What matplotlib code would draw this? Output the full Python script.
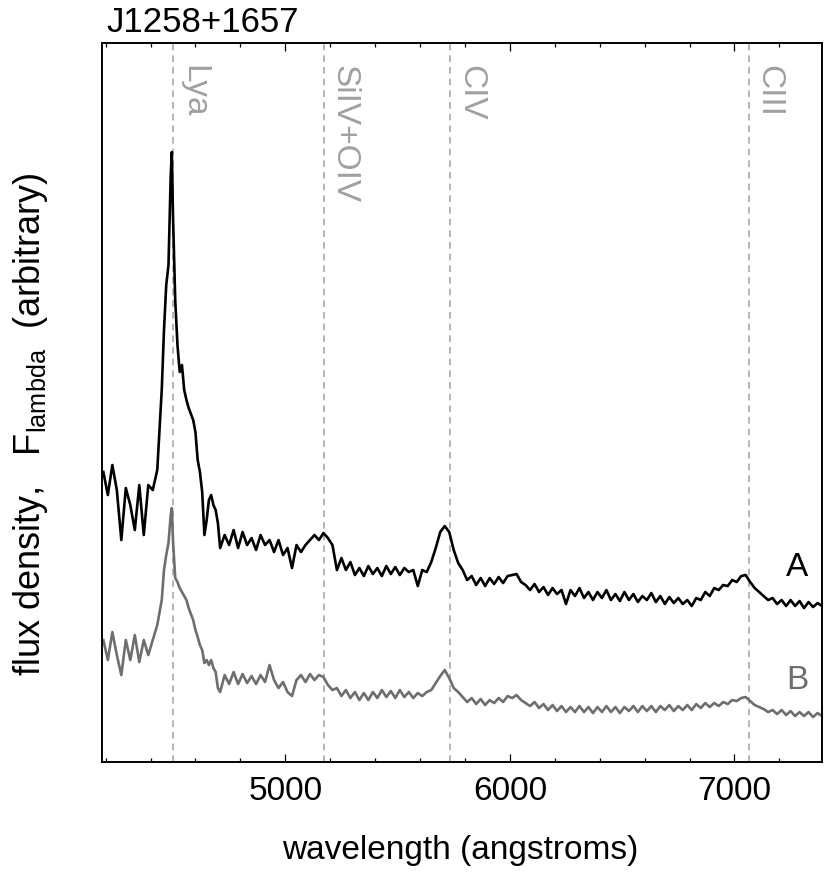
import matplotlib
matplotlib.use("Agg")
from matplotlib import pyplot as plt
from matplotlib.ticker import MultipleLocator, FixedLocator

plt.rcParams['font.family'] = ['Liberation Sans', 'DejaVu Sans']
plt.rcParams['mathtext.fontset'] = 'custom'
plt.rcParams['mathtext.rm'] = 'Liberation Sans'
plt.rcParams['mathtext.it'] = 'Liberation Sans'

# spectrum A (black), wavelength in angstroms, flux in arbitrary units
wave_a = [4190, 4210, 4230, 4250, 4270, 4290, 4310, 4330, 4350, 4370, 4390, 4410, 4430, 4450, 4460,
          4470, 4480, 4490, 4495, 4500, 4510, 4520, 4530, 4540, 4550, 4560, 4570, 4590, 4600, 4610,
          4620, 4630, 4640, 4650, 4660, 4670, 4680, 4690, 4700, 4710, 4730, 4750, 4770, 4790, 4810,
          4830, 4850, 4870, 4890, 4910, 4930, 4950, 4970, 4990, 5010, 5030, 5050, 5070, 5090, 5110,
          5130, 5150, 5170, 5190, 5210, 5230, 5250, 5270, 5290, 5310, 5330, 5350, 5370, 5390, 5410,
          5430, 5450, 5470, 5490, 5510, 5530, 5550, 5570, 5590, 5610, 5630, 5650, 5670, 5690, 5710,
          5730, 5750, 5770, 5790, 5810, 5830, 5850, 5870, 5890, 5910, 5930, 5950, 5970, 5990, 6010,
          6030, 6050, 6070, 6090, 6110, 6130, 6150, 6170, 6190, 6210, 6230, 6250, 6270, 6290, 6310,
          6330, 6350, 6370, 6390, 6410, 6430, 6450, 6470, 6490, 6510, 6530, 6550, 6570, 6590, 6610,
          6630, 6650, 6670, 6690, 6710, 6730, 6750, 6770, 6790, 6810, 6830, 6850, 6870, 6890, 6910,
          6930, 6950, 6970, 6990, 7010, 7030, 7050, 7070, 7090, 7110, 7130, 7150, 7170, 7190, 7210,
          7230, 7250, 7270, 7290, 7310, 7330, 7350, 7370, 7390]
flux_a = [320, 297, 327, 302, 252, 304, 287, 262, 307, 257, 307, 302, 322, 402, 462,
          507, 527, 617, 640, 577, 492, 447, 420, 427, 402, 392, 384, 372, 360, 332,
          320, 300, 257, 272, 292, 297, 287, 282, 269, 244, 257, 247, 262, 244, 260,
          247, 254, 242, 257, 247, 252, 240, 252, 237, 244, 224, 247, 240, 247, 252,
          257, 252, 259, 254, 247, 222, 234, 222, 230, 217, 224, 216, 226, 218, 224,
          216, 226, 218, 225, 217, 224, 220, 222, 206, 222, 220, 230, 244, 260, 266,
          260, 242, 229, 222, 212, 216, 207, 214, 206, 214, 208, 215, 209, 216, 217,
          218, 210, 207, 202, 208, 200, 205, 197, 204, 198, 202, 188, 202, 196, 204,
          194, 200, 192, 200, 194, 202, 192, 198, 191, 200, 192, 198, 190, 196, 192,
          199, 190, 196, 188, 195, 189, 194, 188, 192, 186, 194, 192, 200, 196, 204,
          202, 207, 206, 212, 210, 216, 217, 210, 204, 200, 196, 192, 194, 188, 192,
          186, 192, 186, 191, 184, 190, 185, 189, 186]

# spectrum B (grey), same wavelength grid
wave_b = wave_a
flux_b = [152, 132, 160, 137, 117, 152, 132, 157, 130, 152, 137, 152, 167, 192, 222,
          237, 249, 277, 284, 252, 214, 210, 204, 200, 196, 192, 184, 172, 162, 155,
          147, 142, 129, 132, 127, 132, 124, 120, 104, 100, 117, 108, 120, 108, 118,
          109, 116, 108, 117, 110, 127, 112, 104, 110, 100, 96, 112, 117, 110, 118,
          112, 117, 115, 107, 102, 104, 96, 102, 94, 100, 92, 99, 92, 100, 94,
          102, 95, 101, 94, 102, 95, 100, 94, 99, 96, 100, 102, 109, 116, 122,
          114, 104, 100, 95, 90, 94, 88, 93, 87, 92, 89, 94, 90, 96, 94,
          97, 92, 89, 86, 90, 84, 88, 82, 87, 81, 86, 80, 85, 80, 86,
          80, 85, 79, 85, 80, 86, 80, 85, 79, 85, 81, 86, 80, 86, 81,
          86, 80, 86, 82, 87, 81, 86, 82, 87, 82, 88, 84, 89, 85, 89,
          86, 90, 88, 92, 91, 94, 95, 91, 87, 85, 83, 80, 82, 78, 82,
          77, 81, 76, 80, 76, 80, 75, 79, 76]

# emission lines (observed wavelength)
line_names = ["Lya", "SiIV+OIV", "CIV", "CIII"]
line_waves = [4502, 5171, 5734, 7063]

spec_names = ["A", "B"]
spec_colors = ["black", "#6e6e6e"]

fig = plt.figure(figsize=(8.3, 8.74), dpi=100)
ax = fig.add_axes([0.1229, 0.1281, 0.8675, 0.8227])

for w in line_waves:
    ax.axvline(w, color='#a8a8a8', lw=1.2, ls=(0, (4, 3)), zorder=1)

ax.plot(wave_b, flux_b, color=spec_colors[1], lw=1.9, zorder=2)
ax.plot(wave_a, flux_a, color=spec_colors[0], lw=1.9, zorder=3)

for name, w in zip(line_names, line_waves):
    ax.text(w + 22, 727, name, rotation=-90, ha='left', va='top',
            color='#a0a0a0', fontsize=24)

ax.text(7280, 225, spec_names[0], color=spec_colors[0], fontsize=24, ha='center', va='center')
ax.text(7280, 112, spec_names[1], color=spec_colors[1], fontsize=24, ha='center', va='center')

ax.set_xlim(4184, 7390)
ax.set_ylim(30, 749)
ax.xaxis.set_major_locator(FixedLocator([5000, 6000, 7000]))
ax.xaxis.set_minor_locator(MultipleLocator(200))
ax.tick_params(axis='x', which='both', direction='in', top=True, bottom=True,
               labelsize=24, pad=10, width=0.9)
ax.tick_params(axis='x', which='major', length=6)
ax.tick_params(axis='x', which='minor', length=2.6)
ax.set_yticks([])
for s in ax.spines.values():
    s.set_linewidth(1.4)

ax.set_xlabel("wavelength (angstroms)", fontsize=24)
ax.xaxis.set_label_coords(0.497, -0.102)
ax.set_ylabel(r"flux density,   F$_{\mathrm{lambda}}$  (arbitrary)", fontsize=26)
ax.yaxis.set_label_coords(-0.072, 0.47)

fig.text(106 / 830, 1 - 22 / 874, "J1258+1657", fontsize=25, ha='left', va='center')

fig.savefig("out.png", dpi=100)
